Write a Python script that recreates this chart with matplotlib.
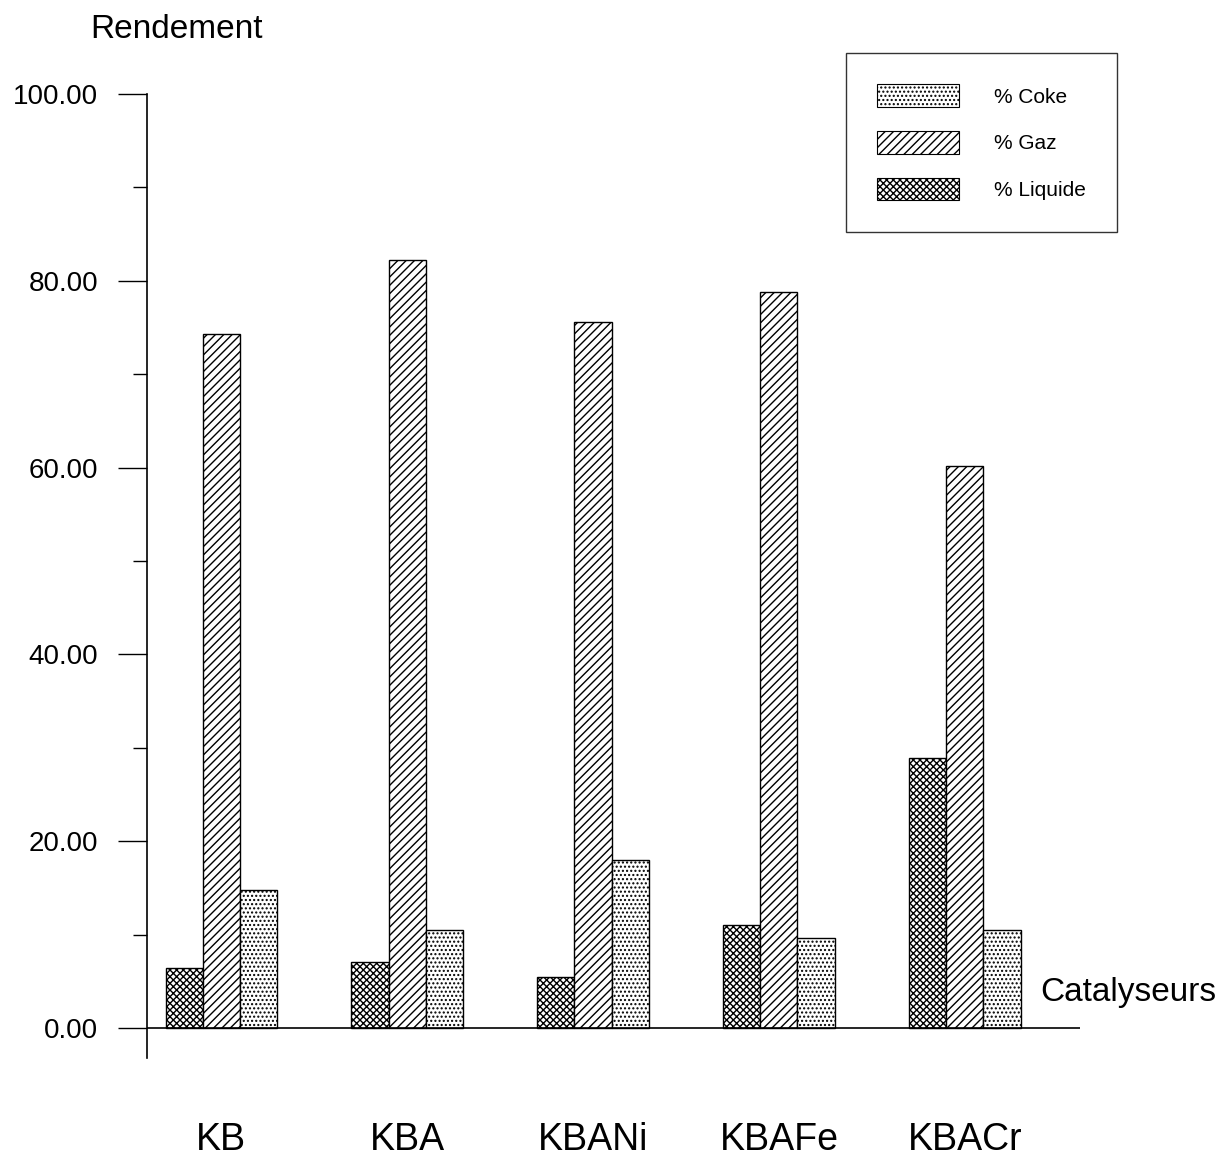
import numpy as np
import matplotlib
matplotlib.use("Agg")
import matplotlib.pyplot as plt
from matplotlib.patches import Patch
from matplotlib.ticker import MultipleLocator, FormatStrFormatter

plt.rcParams['font.family'] = ['Liberation Sans', 'DejaVu Sans']
plt.rcParams['hatch.linewidth'] = 1.0

# donnees
catalyseurs = ['KB', 'KBA', 'KBANi', 'KBAFe', 'KBACr']
barre1 = [6.4, 7.1, 5.5, 11.0, 28.9]      # motif croise
gaz = [74.3, 82.2, 75.6, 78.8, 60.2]      # motif diagonal
barre3 = [14.8, 10.5, 18.0, 9.7, 10.5]    # motif pointille

series = [barre1, gaz, barre3]
hatches = ['xxxxx', '////', '....']
legend_labels = ['% Coke', '% Gaz', '% Liquide']
legend_hatches = ['....', '////', 'xxxxx']

W, H = 1221, 1157
fig = plt.figure(figsize=(W / 100, H / 100), dpi=100)
ax = fig.add_axes([147 / W, 1 - 1058 / H, (1080 - 147) / W, (1058 - 94) / H])

x = np.arange(len(catalyseurs))
width = 0.2
for i, (vals, h) in enumerate(zip(series, hatches)):
    ax.bar(x + (i - 1) * width, vals, width, facecolor='white',
           edgecolor='black', hatch=h, linewidth=1.0, zorder=2)

ax.axhline(0, color='black', linewidth=1.2, zorder=3)

ax.set_xlim(-0.4, 4.62)
ax.set_ylim(-3.2, 100)
for s in ['top', 'right', 'bottom']:
    ax.spines[s].set_visible(False)
ax.spines['left'].set_linewidth(1.2)

ax.yaxis.set_major_locator(MultipleLocator(20))
ax.yaxis.set_minor_locator(MultipleLocator(10))
ax.yaxis.set_major_formatter(FormatStrFormatter('%.2f'))
ax.tick_params(axis='y', which='major', length=21, width=1, pad=14, labelsize=20)
ax.tick_params(axis='y', which='minor', length=10, width=1)

ax.set_xticks(x)
ax.set_xticklabels(catalyseurs, fontsize=27)
ax.tick_params(axis='x', length=0, pad=46)

fig.text(90 / W, 1 - 30 / H, 'Rendement', fontsize=24, ha='left', va='center')
fig.text(1040 / W, 1 - 993 / H, 'Catalyseurs', fontsize=24, ha='left', va='center')

handles = [Patch(facecolor='white', edgecolor='black', hatch=h, linewidth=0.8)
           for h in legend_hatches]
leg = fig.legend(handles, legend_labels, loc='upper left',
                 bbox_to_anchor=(846 / W, 1 - 53 / H), fontsize=15,
                 frameon=True, fancybox=False, edgecolor='black',
                 handlelength=3.9, handleheight=1.3, labelspacing=1.15,
                 borderpad=1.5, handletextpad=1.7, borderaxespad=0)
leg.get_frame().set_linewidth(1.0)

fig.savefig('out.png', dpi=100)
